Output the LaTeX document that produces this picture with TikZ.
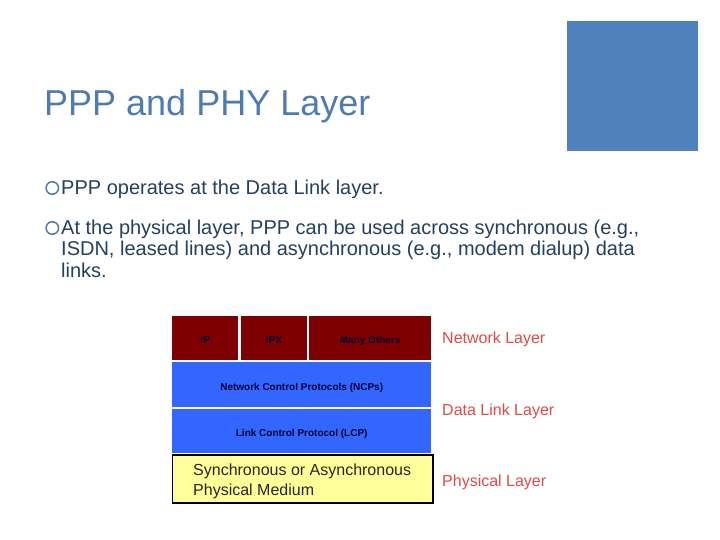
\documentclass[tikz,border=0pt]{standalone}
\usepackage{fontspec}
\setmainfont{Liberation Sans}
\definecolor{titleblue}{HTML}{4F7CAF}
\definecolor{squareblue}{HTML}{4F81BD}
\definecolor{bodyblue}{HTML}{24405F}
\definecolor{ringblue}{HTML}{4F7CA5}
\definecolor{netred}{HTML}{7F0000}
\definecolor{linkblue}{HTML}{3366FF}
\definecolor{medyellow}{HTML}{FFFF99}
\definecolor{labelred}{HTML}{E04848}
\tikzset{
    layerbox/.style={anchor=north west, inner sep=0pt, text height=12pt, text depth=1pt, font=\fontsize{10}{12}\selectfont\bfseries, text=black!80!blue},
    bodytext/.style={anchor=base west, inner sep=0pt, align=left, text=bodyblue, font=\fontsize{20}{24}\selectfont},
    layerlabel/.style={anchor=base west, inner sep=0pt, text=labelred, font=\fontsize{16}{19}\selectfont},
    mediumtext/.style={anchor=base west, inner sep=0pt, font=\fontsize{16}{20}\selectfont, text=black!85},
    ring/.style={circle, draw=ringblue, line width=1.5pt, minimum size=12.5pt, inner sep=0pt}
}
\begin{document}
\begin{tikzpicture}[x=1pt, y=-1pt]
    \useasboundingbox (0, 0) rectangle (720, 540);
    \node[anchor=north west, fill=squareblue, minimum width=131pt, minimum height=130pt, inner sep=0pt] (square) at (567, 21) {};
    \node[anchor=base west, inner sep=0pt, text=titleblue, font=\fontsize{36}{42}\selectfont] (title) at (44, 115.5) {PPP and PHY Layer};

    \node[ring] (ringa) at (52.3, 188) {};
    \node[bodytext] (pointa) at (61, 195) {PPP operates at the Data Link layer.};
    \node[ring] (ringb) at (52.3, 228) {};
    \node[bodytext] (pointb) at (61, 235) {At the physical layer, PPP can be used across synchronous (e.g.,};
    \node[bodytext] (pointc) at (61, 255.7) {ISDN, leased lines) and asynchronous (e.g., modem dialup) data};
    \node[bodytext] (pointd) at (61, 277) {links.};

    \node[layerbox, fill=netred, minimum width=66pt, minimum height=44pt] (ip) at (172, 316) {IP};
    \node[layerbox, fill=netred, minimum width=66pt, minimum height=44pt] (ipx) at (241, 316) {IPX};
    \node[layerbox, fill=netred, minimum width=122pt, minimum height=44pt] (others) at (309, 316) {Many Others};
    \node[layerbox, fill=linkblue, minimum width=259pt, minimum height=45pt] (ncp) at (172, 362) {Network Control Protocols (NCPs)};
    \node[layerbox, fill=linkblue, minimum width=259pt, minimum height=44pt] (lcp) at (172, 409) {Link Control Protocol (LCP)};
    \node[anchor=north west, fill=medyellow, draw=black, line width=1.5pt, minimum width=260.5pt, minimum height=47.8pt, inner sep=0pt] (medium) at (171.5, 454.2) {};
    \node[mediumtext] (sync) at (193, 475) {Synchronous or Asynchronous};
    \node[mediumtext] (phys) at (193, 495) {Physical Medium};

    \node[layerlabel] (network) at (442, 343) {Network Layer};
    \node[layerlabel] (datalink) at (442, 415) {Data Link Layer};
    \node[layerlabel] (physical) at (442, 486) {Physical Layer};
\end{tikzpicture}
\end{document}
